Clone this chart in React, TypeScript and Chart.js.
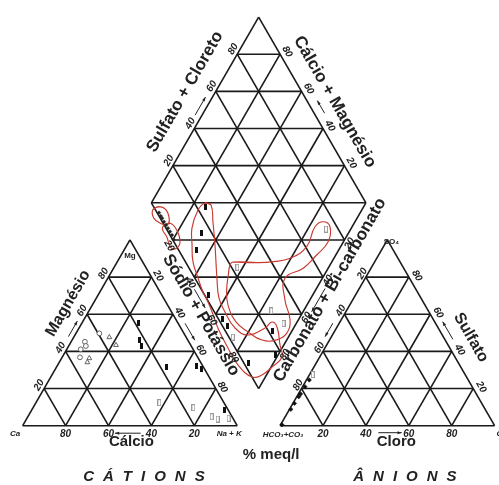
import React, { useEffect, useRef } from "react";
import { Chart, registerables } from "chart.js";
Chart.register(...registerables);

// ---------- data ----------
const TICKS = [20, 40, 60, 80];

// cation triangle (Mg %, Na+K %)
const CAT_FILLED_MG = [55.1, 46.1, 42.9, 31.4, 32.1, 30.5, 8.5];
const CAT_FILLED_NAK = [26.4, 31.6, 33.8, 51.4, 65.0, 68.2, 89.6];
const CAT_OPEN_MG = [12.4, 9.7, 4.8, 3.6, 4.0];
const CAT_OPEN_NAK = [57.5, 74.7, 85.7, 89.1, 94.0];
const CAT_CIRCLE_MG = [49.7, 45.2, 42.9, 41.1, 36.8];
const CAT_CIRCLE_NAK = [10.9, 6.4, 8.0, 6.5, 8.3];
const CAT_TRI_MG = [47.6, 43.4, 36.3, 34.1];
const CAT_TRI_NAK = [16.6, 21.8, 12.9, 13.1];

// anion triangle (SO4 %, Cl %)
const AN_FILLED_SO4 = [0.5, 8.8, 12.0, 15.6, 17.1, 21.0, 24.6];
const AN_FILLED_CL = [0.6, 0.6, 0.7, 0.9, 1.0, 1.1, 1.3];
const AN_OPEN_SO4 = [27.5];
const AN_OPEN_CL = [1.5];

// diamond (Na+K %, SO4+Cl %)
const DIA_CLUSTER_NAK = [6.2, 7.9, 9.2, 11.0, 12.8, 14.6, 16.4, 18.3, 20.2];
const DIA_CLUSTER_AN = [0.9, 0.8, 0.9, 0.8, 0.85, 0.9, 0.9, 0.9, 0.4];
const DIA_FILLED_NAK = [26.6, 31.3, 33.7, 51.3, 64.4, 68.5, 88.4, 99.0, 91.0];
const DIA_FILLED_AN = [24.2, 15.2, 8.5, 1.7, 2.0, 2.0, 2.0, 17.0, 22.0];
const DIA_OPEN_NAK = [88.5, 57.4, 85.0, 94.1, 74.1];
const DIA_OPEN_AN = [74.3, 22.7, 26.8, 29.1, 1.8];

// red density contours in the diamond (Na+K %, SO4+Cl %)
const CONTOUR_A_NAK = [2.5, 4.3, 8.7, 13.0, 13.1, 9.9, 5.4];
const CONTOUR_A_AN = [-1.3, 2.2, 4.9, 3.7, 1.2, -1.2, -3.0];
const CONTOUR_B_NAK = [11.8, 14.2, 19.1, 23.8, 24.0, 21.0, 16.3, 12.6];
const CONTOUR_B_AN = [-0.7, 3.2, 4.5, 2.9, -0.5, -3.0, -2.0, -2.1];
const CONTOUR_C_NAK = [25.0, 28.4, 33.9, 41.0, 50.8, 57.1, 63.7, 72.7, 80.6, 86.7, 88.3, 92.0, 98.2, 102.4, 100.4, 97.9, 93.8, 84.0, 74.8, 64.8, 57.7, 52.1, 48.1, 42.0, 35.3, 30.3, 25.7, 23.7];
const CONTOUR_C_AN = [24.9, 27.2, 23.5, 18.3, 10.3, 5.9, 4.9, 5.3, 9.4, 19.3, 24.1, 25.1, 21.7, 19.4, 12.0, 5.2, 0.0, -3.3, -3.4, -2.7, -1.1, -0.2, 0.0, 1.5, 3.5, 7.6, 12.1, 19.8];
const CONTOUR_D_NAK = [54.0, 65.2, 72.7, 79.6, 84.2, 82.7, 85.2, 89.7, 92.9, 91.1, 88.4, 82.6, 88.4, 96.2, 98.2, 95.3, 88.5, 79.8, 71.5, 63.2, 58.6, 55.3, 53.4];
const CONTOUR_D_AN = [22.1, 33.0, 41.0, 49.7, 60.6, 69.8, 75.0, 76.8, 72.0, 63.0, 53.2, 42.0, 36.1, 33.1, 27.9, 21.5, 14.6, 10.3, 7.4, 8.2, 11.6, 16.4, 19.9];

// ---------- geometry (units: triangle side = 100) ----------
type Pt = { x: number; y: number };
const K = 0.866;
const GAP = 20;
const cat = (mg: number, nak: number): Pt => ({ x: nak + mg / 2, y: mg * K });
const an = (so4: number, cl: number): Pt => ({ x: 100 + GAP + cl + so4 / 2, y: so4 * K });
const DY0 = GAP * K + 100 * K;
const dia = (n: number, a: number): Pt => ({ x: 50 + GAP / 2 + 0.5 * (a + n), y: DY0 + K * (a - n) });

const X_MIN = -10.58;
const X_MAX = 222.05;
const Y_MIN = -27.65;
const Y_MAX = 198.46;

const FONT = "'Liberation Sans', Arial, Helvetica, sans-serif";
const TICK_FONT = `italic bold 10px ${FONT}`;
const VERT_FONT = `italic bold 8px ${FONT}`;
const TITLE_FONT = `bold 17px ${FONT}`;
const SIDE_FONT = `bold 16px ${FONT}`;
const AXIS_FONT = `bold 15px ${FONT}`;
const TXT = "#222222";

type Label = { text: string; at: Pt; dx: number; dy: number; rot: number; font: string; align?: CanvasTextAlign; spacing?: number };
type Arrow = { from: Pt; to: Pt; dx: number; dy: number };

function buildLabels(): Label[] {
  const L: Label[] = [];
  TICKS.forEach((c) => {
    L.push({ text: String(100 - c), at: cat(0, c), dx: 0, dy: 9, rot: 0, font: TICK_FONT });
    L.push({ text: String(c), at: cat(c, 0), dx: -5, dy: -3.5, rot: -60, font: TICK_FONT });
    L.push({ text: String(c), at: cat(100 - c, c), dx: 6.7, dy: -1.3, rot: 60, font: TICK_FONT });
    L.push({ text: String(c), at: an(0, c), dx: 0, dy: 9, rot: 0, font: TICK_FONT });
    L.push({ text: String(100 - c), at: an(c, 0), dx: -3.5, dy: -3.5, rot: -60, font: TICK_FONT });
    L.push({ text: String(c), at: an(c, 100 - c), dx: 8, dy: -1.5, rot: 60, font: TICK_FONT });
    L.push({ text: String(c), at: dia(0, c), dx: -4, dy: -5, rot: -60, font: TICK_FONT });
    L.push({ text: String(c), at: dia(100 - c, 100), dx: 7, dy: -2.6, rot: 60, font: TICK_FONT });
    L.push({ text: String(c), at: dia(c, 0), dx: -3.8, dy: 5.9, rot: 60, font: TICK_FONT });
    L.push({ text: String(c), at: dia(100, 100 - c), dx: 5.1, dy: 3.5, rot: -60, font: TICK_FONT });
  });
  // vertex labels
  L.push({ text: "Mg", at: cat(100, 0), dx: 0, dy: 16, rot: 0, font: `bold 8px ${FONT}` });
  L.push({ text: "Ca", at: cat(0, 0), dx: -7.5, dy: 8.5, rot: 0, font: VERT_FONT });
  L.push({ text: "Na + K", at: cat(0, 100), dx: -8, dy: 8.5, rot: 0, font: VERT_FONT });
  L.push({ text: "HCO\u2083+CO\u2083", at: an(0, 0), dx: 3, dy: 9, rot: 0, font: VERT_FONT });
  L.push({ text: "Cl", at: an(0, 100), dx: 2, dy: 8.5, rot: 0, font: VERT_FONT, align: "left" });
  L.push({ text: "SO\u2084", at: an(100, 0), dx: 4, dy: 2, rot: 0, font: `bold 8px ${FONT}` });
  // side titles
  L.push({ text: "Magnésio", at: cat(60, 0), dx: -18.8, dy: -10.9, rot: -60, font: SIDE_FONT });
  L.push({ text: "Sulfato + Cloreto", at: dia(0, 52.6), dx: -22.8, dy: -13.2, rot: -60, font: TITLE_FONT });
  L.push({ text: "Cálcio + Magnésio", at: dia(52, 100), dx: 20.3, dy: -11.7, rot: 60, font: TITLE_FONT });
  L.push({ text: "Sódio + Potássio", at: dia(56.9, 0), dx: -11.4, dy: 6.6, rot: 60, font: TITLE_FONT });
  L.push({ text: "Carbonato + Bi-carbonato", at: dia(100, 56.4), dx: 10.8, dy: 6.3, rot: -60, font: TITLE_FONT });
  L.push({ text: "Sulfato", at: an(41.1, 58.9), dx: 20.4, dy: -11.8, rot: 60, font: SIDE_FONT });
  L.push({ text: "Cálcio", at: cat(0, 50), dx: 1.5, dy: 16, rot: 0, font: AXIS_FONT });
  L.push({ text: "Cloro", at: an(0, 50), dx: 9, dy: 16, rot: 0, font: AXIS_FONT });
  L.push({ text: "% meq/l", at: dia(100, 0), dx: 12.5, dy: 66, rot: 0, font: AXIS_FONT });
  L.push({ text: "CÁTIONS", at: cat(0, 50), dx: 14, dy: 51, rot: 0, font: `italic bold 15px ${FONT}`, spacing: 9 });
  L.push({ text: "ÂNIONS", at: an(0, 50), dx: 17.6, dy: 51, rot: 0, font: `italic bold 15px ${FONT}`, spacing: 9 });
  return L;
}

function buildArrows(): Arrow[] {
  return [
    { from: cat(46.6, 0), to: cat(55, 0), dx: -4.3, dy: -2.5 },
    { from: cat(0, 55), to: cat(0, 43), dx: 0, dy: 7.5 },
    { from: cat(53.5, 46.5), to: cat(44.4, 55.6), dx: 5.2, dy: -3 },
    { from: dia(0, 45.6), to: dia(0, 55.3), dx: -5.2, dy: -3 },
    { from: dia(54.2, 100), to: dia(47.4, 100), dx: 7.8, dy: -4.5 },
    { from: dia(45, 0), to: dia(55, 0), dx: -5.2, dy: 3 },
    { from: dia(100, 55.9), to: dia(100, 43.4), dx: 6.5, dy: 3.8 },
    { from: an(53.7, 0), to: an(46.4, 0), dx: -4.8, dy: -2.8 },
    { from: an(44.6, 55.4), to: an(54.1, 45.9), dx: 6.1, dy: -3.5 },
    { from: an(0, 45.8), to: an(0, 56.7), dx: 0, dy: 7 },
  ];
}

function gridSegments(): [Pt, Pt][] {
  const s: [Pt, Pt][] = [];
  s.push([cat(0, 0), cat(0, 100)], [cat(0, 100), cat(100, 0)], [cat(100, 0), cat(0, 0)]);
  s.push([an(0, 0), an(0, 100)], [an(0, 100), an(100, 0)], [an(100, 0), an(0, 0)]);
  s.push([dia(0, 0), dia(0, 100)], [dia(0, 100), dia(100, 100)], [dia(100, 100), dia(100, 0)], [dia(100, 0), dia(0, 0)]);
  TICKS.forEach((c) => {
    s.push([cat(c, 0), cat(c, 100 - c)], [cat(0, c), cat(100 - c, c)], [cat(0, 100 - c), cat(100 - c, 0)]);
    s.push([an(c, 0), an(c, 100 - c)], [an(0, c), an(100 - c, c)], [an(0, 100 - c), an(100 - c, 0)]);
    s.push([dia(c, 0), dia(c, 100)], [dia(0, c), dia(100, c)]);
    s.push([dia(0, c), dia(100 - c, 100)], [dia(c, 0), dia(100, 100 - c)]);
  });
  s.push([dia(0, 0), dia(100, 100)]);
  return s;
}

function img(w: number, h: number, fill: string | null, stroke: string | null): HTMLCanvasElement {
  const c = document.createElement("canvas");
  c.width = w;
  c.height = h;
  const g = c.getContext("2d")!;
  if (fill) {
    g.fillStyle = fill;
    g.fillRect(0, 0, w, h);
  }
  if (stroke) {
    g.strokeStyle = stroke;
    g.lineWidth = 1;
    g.strokeRect(0.5, 0.5, w - 1, h - 1);
  }
  return c;
}

const zip = (a: number[], b: number[], f: (p: number, q: number) => Pt) => a.map((v, i) => f(v, b[i]));

export default function App() {
  const ref = useRef<HTMLCanvasElement | null>(null);
  useEffect(() => {
    if (!ref.current) return;
    const filled = img(3, 6, "#111", null);
    const open = img(4, 7, "#fff", "#9a9a9a");
    const labels = buildLabels();
    const arrows = buildArrows();

    const markers: any[] = [
      { data: zip(CAT_FILLED_MG, CAT_FILLED_NAK, cat), pointStyle: filled },
      { data: zip(CAT_OPEN_MG, CAT_OPEN_NAK, cat), pointStyle: open },
      { data: zip(CAT_CIRCLE_MG, CAT_CIRCLE_NAK, cat), pointStyle: "circle", pointRadius: 2.4, pointBackgroundColor: "#fff", pointBorderColor: "#555", pointBorderWidth: 0.9 },
      { data: zip(CAT_TRI_MG, CAT_TRI_NAK, cat), pointStyle: "triangle", pointRadius: 2.8, pointBackgroundColor: "#fff", pointBorderColor: "#555", pointBorderWidth: 0.9 },
      { data: zip(AN_FILLED_SO4, AN_FILLED_CL, an), pointStyle: "rectRot", pointRadius: 2.2, pointBackgroundColor: "#111", pointBorderColor: "#111", pointBorderWidth: 0.5 },
      { data: zip(AN_OPEN_SO4, AN_OPEN_CL, an), pointStyle: open },
      { data: zip(DIA_CLUSTER_NAK, DIA_CLUSTER_AN, dia), pointStyle: "rectRot", pointRadius: 1.8, pointBackgroundColor: "#222", pointBorderColor: "#222", pointBorderWidth: 0.5 },
      { data: zip(DIA_FILLED_NAK, DIA_FILLED_AN, dia), pointStyle: filled },
      { data: zip(DIA_OPEN_NAK, DIA_OPEN_AN, dia), pointStyle: open },
    ].map((d) => ({ pointRadius: 3, showLine: false, order: 0, ...d }));

    const contours: [number[], number[]][] = [
      [CONTOUR_A_NAK, CONTOUR_A_AN],
      [CONTOUR_B_NAK, CONTOUR_B_AN],
      [CONTOUR_C_NAK, CONTOUR_C_AN],
      [CONTOUR_D_NAK, CONTOUR_D_AN],
    ];
    const contourSets = contours.map(([n, a]) => {
      const pts = zip(n, a, dia);
      return {
        data: [...pts, pts[0], pts[1]],
        showLine: true,
        pointRadius: 0,
        borderColor: "#c93a30",
        borderWidth: 1.15,
        tension: 0.45,
        order: 1,
      };
    });

    const gridSets = gridSegments().map(([p, q]) => ({
      data: [p, q],
      showLine: true,
      pointRadius: 0,
      borderColor: "#1a1a1a",
      borderWidth: 1.6,
      order: 2,
    }));

    const labelPlugin = {
      id: "piperLabels",
      afterDatasetsDraw(chart: any) {
        const ctx: CanvasRenderingContext2D = chart.ctx;
        const xs = chart.scales.x;
        const ys = chart.scales.y;
        const px = (p: Pt) => ({ x: xs.getPixelForValue(p.x), y: ys.getPixelForValue(p.y) });
        ctx.save();
        ctx.fillStyle = TXT;
        ctx.strokeStyle = TXT;
        for (const l of labels) {
          const p = px(l.at);
          ctx.save();
          ctx.translate(p.x + l.dx, p.y + l.dy);
          ctx.rotate((l.rot * Math.PI) / 180);
          ctx.font = l.font;
          ctx.textAlign = l.align || "center";
          ctx.textBaseline = "middle";
          if (l.spacing) {
            const chars = Array.from(l.text);
            const widths = chars.map((ch) => ctx.measureText(ch).width);
            const total = widths.reduce((s, w) => s + w, 0) + l.spacing * (chars.length - 1);
            let x = -total / 2;
            ctx.textAlign = "left";
            chars.forEach((ch, i) => {
              ctx.fillText(ch, x, 0);
              x += widths[i] + l.spacing!;
            });
          } else {
            ctx.fillText(l.text, 0, 0);
          }
          ctx.restore();
        }
        ctx.lineWidth = 1;
        for (const a of arrows) {
          const p = px(a.from);
          const q = px(a.to);
          const x1 = p.x + a.dx, y1 = p.y + a.dy, x2 = q.x + a.dx, y2 = q.y + a.dy;
          ctx.beginPath();
          ctx.moveTo(x1, y1);
          ctx.lineTo(x2, y2);
          ctx.stroke();
          const ang = Math.atan2(y2 - y1, x2 - x1);
          ctx.beginPath();
          ctx.moveTo(x2, y2);
          ctx.lineTo(x2 - 4.5 * Math.cos(ang - 0.35), y2 - 4.5 * Math.sin(ang - 0.35));
          ctx.lineTo(x2 - 4.5 * Math.cos(ang + 0.35), y2 - 4.5 * Math.sin(ang + 0.35));
          ctx.closePath();
          ctx.fill();
        }
        ctx.restore();
      },
    };

    const chart = new Chart(ref.current, {
      type: "scatter",
      data: { datasets: [...markers, ...contourSets, ...gridSets] as any },
      options: {
        animation: false,
        responsive: true,
        maintainAspectRatio: false,
        events: [],
        layout: { padding: 0, autoPadding: false },
        plugins: { legend: { display: false }, tooltip: { enabled: false } },
        scales: {
          x: { type: "linear", display: false, min: X_MIN, max: X_MAX },
          y: { type: "linear", display: false, min: Y_MIN, max: Y_MAX },
        },
      },
      plugins: [labelPlugin],
    });
    return () => chart.destroy();
  }, []);

  return (
    <div style={{ position: "fixed", left: 0, top: 0, width: 499, height: 485, background: "#fff" }}>
      <canvas ref={ref} />
    </div>
  );
}
